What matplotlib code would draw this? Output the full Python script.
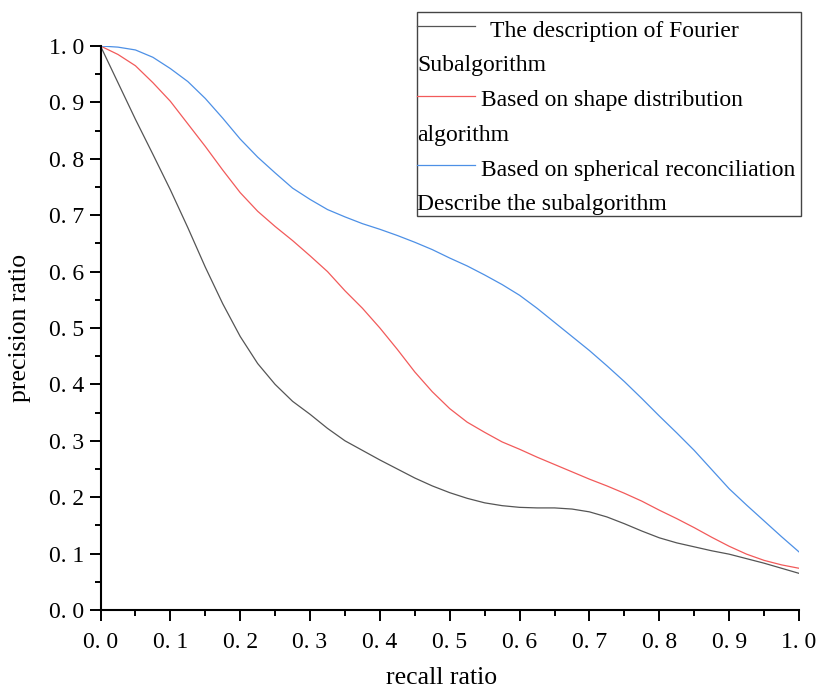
import matplotlib
matplotlib.use("Agg")
import matplotlib.pyplot as plt
from matplotlib.patches import Rectangle
from matplotlib.lines import Line2D

# recall values (x) and the three precision curves
recall = [0.0, 0.025, 0.05, 0.075, 0.10, 0.125, 0.15, 0.175, 0.20, 0.225,
          0.25, 0.275, 0.30, 0.325, 0.35, 0.375, 0.40, 0.425, 0.45, 0.475,
          0.50, 0.525, 0.55, 0.575, 0.60, 0.625, 0.65, 0.675, 0.70, 0.725,
          0.75, 0.775, 0.80, 0.825, 0.85, 0.875, 0.90, 0.925, 0.95, 0.975, 1.0]
fourier = [1.0, 0.935, 0.87, 0.808, 0.745, 0.678, 0.608, 0.543, 0.485, 0.437,
           0.400, 0.370, 0.347, 0.322, 0.300, 0.283, 0.266, 0.250, 0.234, 0.220,
           0.208, 0.198, 0.190, 0.185, 0.182, 0.181, 0.181, 0.179, 0.174, 0.165,
           0.153, 0.140, 0.128, 0.119, 0.112, 0.105, 0.099, 0.091, 0.083, 0.074, 0.065]
shape_dist = [1.0, 0.985, 0.965, 0.935, 0.902, 0.862, 0.822, 0.780, 0.740, 0.707,
              0.680, 0.655, 0.628, 0.600, 0.566, 0.535, 0.500, 0.462, 0.422, 0.387,
              0.357, 0.333, 0.315, 0.298, 0.285, 0.271, 0.258, 0.245, 0.232, 0.220,
              0.207, 0.193, 0.177, 0.162, 0.146, 0.129, 0.113, 0.099, 0.088, 0.080, 0.074]
spherical = [1.0, 0.998, 0.993, 0.980, 0.960, 0.937, 0.907, 0.872, 0.835, 0.803,
             0.775, 0.748, 0.728, 0.710, 0.697, 0.685, 0.675, 0.664, 0.652, 0.639,
             0.624, 0.610, 0.594, 0.577, 0.558, 0.535, 0.510, 0.485, 0.460, 0.433,
             0.405, 0.375, 0.344, 0.314, 0.283, 0.249, 0.215, 0.186, 0.158, 0.130, 0.103]

# legend rows: (first line, second line)
labels = [
    ("The description of Fourier", "Subalgorithm"),
    ("Based on shape distribution", "algorithm"),
    ("Based on spherical reconciliation", "Describe the subalgorithm"),
]
ticks = [0.0, 0.1, 0.2, 0.3, 0.4, 0.5, 0.6, 0.7, 0.8, 0.9, 1.0]
tick_labels = ["0. 0", "0. 1", "0. 2", "0. 3", "0. 4", "0. 5",
               "0. 6", "0. 7", "0. 8", "0. 9", "1. 0"]

colors = ["#555555", "#f25a5a", "#4d90e6"]
W, H = 819, 691
serif = "Liberation Serif"

fig = plt.figure(figsize=(W / 100, H / 100), dpi=100)
ax = fig.add_axes([100.5 / W, (H - 610) / H, 698.5 / W, 564 / H])

for ys, c in zip([fourier, shape_dist, spherical], colors):
    ax.plot(recall, ys, color=c, lw=0.9)

ax.set_xlim(0, 1)
ax.set_ylim(0, 1)
ax.set_xticks(ticks)
ax.set_yticks(ticks)
ax.set_xticklabels(tick_labels, fontfamily=serif, fontsize=17)
ax.set_yticklabels(tick_labels, fontfamily=serif, fontsize=17)
ax.set_xticks([t + 0.05 for t in ticks[:-1]], minor=True)
ax.set_yticks([t + 0.05 for t in ticks[:-1]], minor=True)
ax.tick_params(which="major", direction="out", length=8, width=1.4)
ax.tick_params(which="minor", direction="out", length=4.5, width=1.4)
ax.tick_params(axis="y", which="major", pad=4)
ax.tick_params(axis="x", which="major", pad=8)

for s in ["top", "right"]:
    ax.spines[s].set_visible(False)
for s in ["left", "bottom"]:
    ax.spines[s].set_linewidth(1.5)

ax.set_xlabel("recall ratio", fontfamily=serif, fontsize=18.5)
ax.xaxis.set_label_coords((442 - 100.5) / 698.5, (610 - 684) / 564)
ax.xaxis.label.set_va("baseline")
ax.set_ylabel("precision ratio", fontfamily=serif, fontsize=18.5, labelpad=13)

# hand-made legend, text wraps back to the box edge like the original
def fx(px):
    return px / W

def fy(py):
    return 1 - py / H

box = Rectangle((fx(417), fy(216)), fx(801) - fx(417), fy(12) - fy(216),
                transform=fig.transFigure, fill=True, facecolor="white",
                edgecolor="#444444", lw=1.0, zorder=5)
fig.patches.append(box)

handle_y = [26, 96, 165]
base_y = [(37, 71), (106, 141), (176, 210)]
text_x = [490, 481, 481]
for (l1, l2), c, hy, (b1, b2), tx in zip(labels, colors, handle_y, base_y, text_x):
    fig.lines.append(Line2D([fx(417), fx(475)], [fy(hy), fy(hy)],
                            transform=fig.transFigure, color=c, lw=0.9, zorder=6))
    fig.text(fx(tx), fy(b1), l1, fontfamily=serif, fontsize=17,
             va="baseline", ha="left", zorder=6)
    fig.text(fx(417), fy(b2), l2, fontfamily=serif, fontsize=17,
             va="baseline", ha="left", zorder=6)

fig.savefig("out.png", dpi=100)
